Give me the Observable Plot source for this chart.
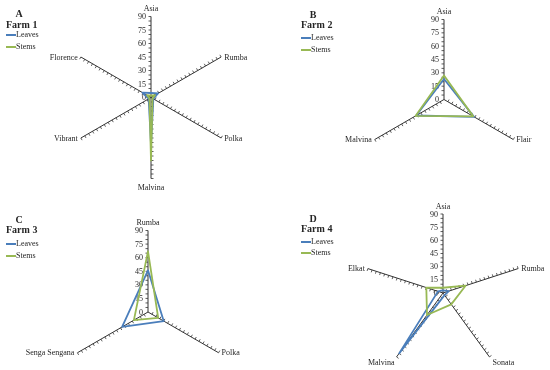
<!DOCTYPE html>
<html>
<head>
<meta charset="utf-8">
<script src="https://cdn.jsdelivr.net/npm/d3@7"></script>
<script src="https://cdn.jsdelivr.net/npm/@observablehq/plot@0.6"></script>
<style>
body{margin:0;background:#fff;}
#wrap{position:relative;width:550px;height:370px;font-family:"Liberation Serif","Times New Roman",serif;}
.cell{position:absolute;width:275px;height:185px;}
.cell svg{position:absolute;left:0;top:0;will-change:transform;}
.cell svg g[aria-label="text"]{filter:grayscale(1);}
.t{position:absolute;white-space:nowrap;transform:translateY(-50%);line-height:1;color:#262626;}
.sw{position:absolute;width:10px;height:0;transform:translateY(-50%);}
</style>
</head>
<body>
<div id="wrap"></div>
<script>
// ---- data ----
const catsA = ["Asia", "Rumba", "Polka", "Malvina", "Vibrant", "Florence"];
const leavesA = [5, 9, 3, 52, 3, 11];
const stemsA = [2, 5, 2, 70, 2, 5];

const catsB = ["Asia", "Flair", "Malvina"];
const leavesB = [23, 39, 36];
const stemsB = [27, 38, 37];

const catsC = ["Rumba", "Polka", "Senga Sengana"];
const leavesC = [46, 20, 33];
const stemsC = [67, 13, 18];

const catsD = ["Asia", "Rumba", "Sonata", "Malvina", "Elkat"];
const leavesD = [3, 7, 3, 85, 6];
const stemsD = [6, 27, 16, 31, 20];

const tickValues = [0, 15, 30, 45, 60, 75, 90];
const seriesNames = ["Leaves", "Stems"];
const panelLetters = ["A", "B", "C", "D"];
const farmNames = ["Farm 1", "Farm 2", "Farm 3", "Farm 4"];

// ---- layout / style ----
const MAXV = 90;
const colors = {Leaves: "#4a7ebb", Stems: "#98b954"};
const ink = "#262626";
const W = 275, H = 185;
const panels = [
  {cats: catsA, leaves: leavesA, stems: stemsA, left: 0,   top: 0,   cx: 150.5, cy: 97,   r: 81,
   hdr: {lx: 19, ly: 14, fx: 6,  fy: 25, s1: 35, s2: 47}},
  {cats: catsB, leaves: leavesB, stems: stemsB, left: 275, top: 0,   cx: 168.5, cy: 99,   r: 80,
   hdr: {lx: 38, ly: 15, fx: 26, fy: 25, s1: 38, s2: 50}},
  {cats: catsC, leaves: leavesC, stems: stemsC, left: 0,   top: 185, cx: 147.5, cy: 126.5, r: 81.5,
   hdr: {lx: 19, ly: 35, fx: 6,  fy: 45, s1: 59, s2: 71}},
  {cats: catsD, leaves: leavesD, stems: stemsD, left: 275, top: 185, cx: 167.5, cy: 107.5, r: 79,
   hdr: {lx: 38, ly: 34, fx: 26, fy: 44, s1: 57, s2: 68}}
];

const wrap = document.getElementById("wrap");

panels.forEach((p, pi) => {
  const n = p.cats.length;
  const k = p.r / MAXV; // px per unit
  const ang = i => (i * 2 * Math.PI) / n;
  const axes = p.cats.map((c, i) => ({cat: c, a: ang(i)}));
  const pt = (v, a) => ({x: v * Math.sin(a), y: v * Math.cos(a)});

  const ticks = [];
  axes.forEach(ax => {
    for (let v = 5; v <= MAXV; v += 5) ticks.push({v, a: ax.a});
  });
  const tl = 2.5 / k;

  const poly = vals => vals.map((v, i) => pt(v, ang(i)));

  const isTop = ax => Math.abs(Math.sin(ax.a)) < 0.1 && Math.cos(ax.a) > 0;
  const isBot = ax => Math.abs(Math.sin(ax.a)) < 0.1 && Math.cos(ax.a) < 0;
  const isRight = ax => Math.sin(ax.a) >= 0.1;
  const isLeft = ax => Math.sin(ax.a) <= -0.1;
  const low = ax => Math.cos(ax.a) < -0.7;
  const ex = d => MAXV * Math.sin(d.a), ey = d => MAXV * Math.cos(d.a);
  const lab = {text: "cat", fill: ink, fontSize: 8};

  const chart = Plot.plot({
    width: W, height: H, margin: 0,
    x: {domain: [-p.cx / k, (W - p.cx) / k], range: [0, W], axis: null},
    y: {domain: [-(H - p.cy) / k, p.cy / k], range: [H, 0], axis: null},
    style: {fontFamily: "'Liberation Serif','Times New Roman',serif", fontSize: "8px", background: "transparent", overflow: "visible"},
    marks: [
      Plot.link(axes, {x1: () => 0, y1: () => 0, x2: ex, y2: ey, stroke: "#333", strokeWidth: 1}),
      Plot.link(ticks, {
        x1: d => d.v * Math.sin(d.a), y1: d => d.v * Math.cos(d.a),
        x2: d => d.v * Math.sin(d.a) - tl * Math.cos(d.a), y2: d => d.v * Math.cos(d.a) + tl * Math.sin(d.a),
        stroke: "#333", strokeWidth: 0.8
      }),
      Plot.text(tickValues, {x: () => 0, y: d => d, text: d => String(d), dx: -5, textAnchor: "end", fill: ink, fontSize: 8}),
      Plot.text(axes.filter(isTop), {...lab, x: () => 0, y: () => MAXV, dy: -8, textAnchor: "middle"}),
      Plot.text(axes.filter(isBot), {...lab, x: () => 0, y: () => -MAXV, dy: 9, textAnchor: "middle"}),
      Plot.text(axes.filter(d => isRight(d) && !low(d)), {...lab, x: ex, y: ey, dx: 3, textAnchor: "start"}),
      Plot.text(axes.filter(d => isRight(d) && low(d)), {...lab, x: ex, y: ey, dx: 3, dy: 6, textAnchor: "start"}),
      Plot.text(axes.filter(d => isLeft(d) && !low(d)), {...lab, x: ex, y: ey, dx: -3, textAnchor: "end"}),
      Plot.text(axes.filter(d => isLeft(d) && low(d)), {...lab, x: ex, y: ey, dx: -2, dy: 6, textAnchor: "end"}),
      Plot.line(poly(p.leaves), {x: "x", y: "y", curve: "linear-closed", stroke: colors.Leaves, strokeWidth: 1.8}),
      Plot.line(poly(p.stems), {x: "x", y: "y", curve: "linear-closed", stroke: colors.Stems, strokeWidth: 1.8})
    ]
  });

  const cell = document.createElement("div");
  cell.className = "cell";
  cell.style.left = p.left + "px";
  cell.style.top = p.top + "px";
  cell.appendChild(chart);

  const h = p.hdr;
  const add = (txt, x, y, css) => {
    const d = document.createElement("div");
    d.className = "t";
    d.textContent = txt;
    d.style.left = x + "px";
    d.style.top = y + "px";
    Object.assign(d.style, css || {});
    cell.appendChild(d);
    return d;
  };
  add(panelLetters[pi], h.lx, h.ly, {fontWeight: "bold", fontSize: "10px", transform: "translate(-50%,-50%)"});
  add(farmNames[pi], h.fx, h.fy, {fontWeight: "bold", fontSize: "10px"});
  seriesNames.forEach((s, si) => {
    const y = si === 0 ? h.s1 : h.s2;
    const sw = document.createElement("div");
    sw.className = "sw";
    sw.style.left = h.fx + "px";
    sw.style.top = y + "px";
    sw.style.borderTop = "2px solid " + colors[s];
    cell.appendChild(sw);
    add(s, h.fx + 10, y, {fontSize: "8px"});
  });
  wrap.appendChild(cell);
});
</script>
</body>
</html>
